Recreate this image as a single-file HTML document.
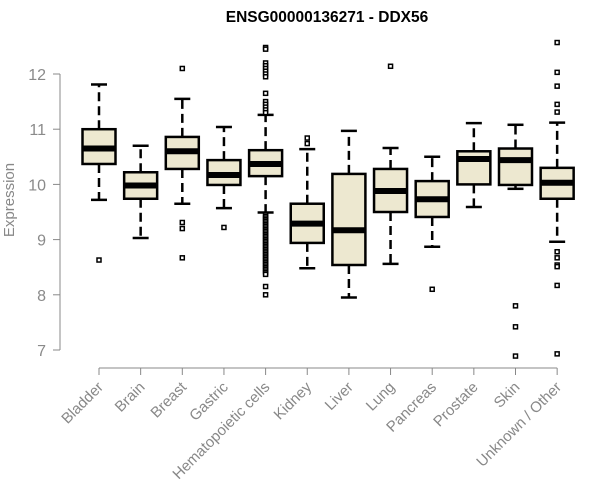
<!DOCTYPE html>
<html><head><meta charset="utf-8"><style>
body{margin:0;background:#fff}
svg{display:block;font-family:"Liberation Sans",Arial,sans-serif}
</style></head><body>
<svg id="chart" width="600" height="500"></svg>
<script>
const categories=["Bladder","Brain","Breast","Gastric","Hematopoietic cells","Kidney","Liver","Lung","Pancreas","Prostate","Skin","Unknown / Other"];
const whiskerLow=[9.72,9.03,9.65,9.57,9.49,8.48,7.95,8.56,8.87,9.59,9.92,8.96];
const q1=[10.37,9.74,10.28,9.99,10.15,8.94,8.54,9.5,9.41,10.0,9.99,9.74];
const medians=[10.65,9.98,10.6,10.17,10.37,9.29,9.17,9.88,9.73,10.46,10.44,10.03];
const q3=[11.0,10.22,10.86,10.44,10.62,9.65,10.19,10.28,10.06,10.6,10.65,10.3];
const whiskerHigh=[11.81,10.7,11.55,11.04,11.26,10.64,10.97,10.66,10.5,11.11,11.08,11.12];
const outliers=[[8.63],[],[12.1,9.31,9.2,8.67],[9.22],
[12.48,12.45,12.2,12.15,12.1,12.05,12.0,11.95,11.65,11.5,11.45,11.4,11.35,11.3,9.45,9.42,9.39,9.36,9.33,9.3,9.27,9.24,9.21,9.18,9.15,9.12,9.09,9.06,9.03,9.0,8.97,8.94,8.91,8.88,8.85,8.82,8.79,8.76,8.73,8.7,8.67,8.64,8.61,8.58,8.55,8.52,8.49,8.46,8.43,8.4,8.37,8.15,8.0],
[10.84,10.74],[],[12.14],[8.1],[],[7.8,7.42,6.89],
[12.57,12.03,11.78,11.45,11.31,8.78,8.67,8.54,8.51,8.17,6.93]];
const yTicks=[7,8,9,10,11,12];
const NS="http://www.w3.org/2000/svg";
const svg=document.getElementById("chart");
const y=v=>350-(v-7)*55.2;
const x=i=>99+i*41.65;
function mk(t,a,p){const e=document.createElementNS(NS,t);for(const k in a)e.setAttribute(k,a[k]);(p||svg).appendChild(e);return e;}
const title=mk("text",{x:327,y:22,"text-anchor":"middle","font-size":15.5,"font-weight":"bold",fill:"#000"});
title.textContent="ENSG00000136271 - DDX56";


const yl=mk("text",{x:14,y:200,"text-anchor":"middle","font-size":15,fill:"#888",transform:"rotate(-90 14 200)"});
yl.textContent="Expression";


const ya=mk("g",{});


mk("line",{x1:60,x2:60,y1:y(12),y2:y(7),stroke:"#888"},ya);
yTicks.forEach(t=>{mk("line",{x1:53,x2:60,y1:y(t),y2:y(t),stroke:"#888"},ya);
const tx=mk("text",{x:46,y:y(t)+6,"text-anchor":"end","font-size":16,fill:"#8a8a8a"},ya);tx.textContent=t;

});
const xa=mk("g",{});


mk("line",{x1:x(0),x2:x(categories.length-1),y1:368,y2:368,stroke:"#888"},xa);
categories.forEach((c,i)=>{
mk("line",{x1:x(i),x2:x(i),y1:368,y2:375,stroke:"#888"},xa);
const tx=mk("text",{x:x(i)+5,y:388,"text-anchor":"end","font-size":15,fill:"#888",transform:`rotate(-45 ${x(i)+5} 388)`},xa);tx.textContent=c;


const g=mk("g",{});


const cx=x(i),hw=16.5;
mk("line",{x1:cx,x2:cx,y1:y(q3[i]),y2:y(whiskerHigh[i]),stroke:"#000","stroke-width":2.5,"stroke-dasharray":"9,5"},g);
mk("line",{x1:cx,x2:cx,y1:y(q1[i]),y2:y(whiskerLow[i]),stroke:"#000","stroke-width":2.5,"stroke-dasharray":"9,5"},g);
mk("line",{x1:cx-8,x2:cx+8,y1:y(whiskerHigh[i]),y2:y(whiskerHigh[i]),stroke:"#000","stroke-width":2.5},g);
mk("line",{x1:cx-8,x2:cx+8,y1:y(whiskerLow[i]),y2:y(whiskerLow[i]),stroke:"#000","stroke-width":2.5},g);
mk("rect",{x:cx-hw,y:y(q3[i]),width:2*hw,height:y(q1[i])-y(q3[i]),fill:"#ede8d0",stroke:"#000","stroke-width":2.5},g);
mk("line",{x1:cx-hw,x2:cx+hw,y1:y(medians[i]),y2:y(medians[i]),stroke:"#000","stroke-width":6},g);
outliers[i].forEach(v=>{mk("rect",{x:cx-2,y:y(v)-2,width:4,height:4,fill:"#fff",stroke:"#000","stroke-width":1.5},g);});
});
</script>
</body></html>
